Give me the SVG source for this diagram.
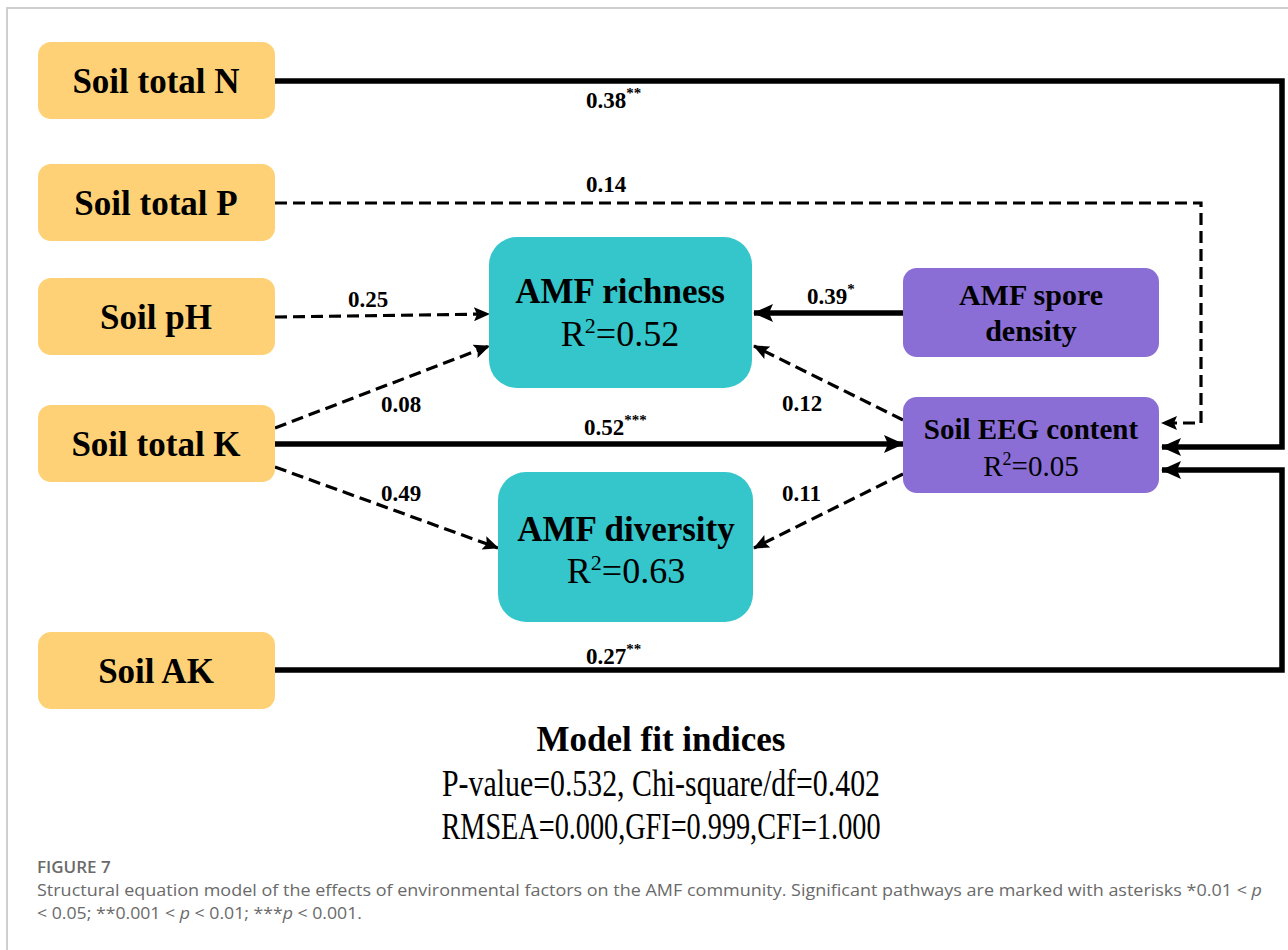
<svg xmlns="http://www.w3.org/2000/svg" width="1288" height="950" viewBox="0 0 1288 950">
<style>
.soil{fill:#FFD176}
.amf{fill:#34C6CB}
.pur{fill:#8A6ED6}
.nt{font-family:"Liberation Serif","Times New Roman",serif;font-weight:bold;fill:#000;text-anchor:middle}
.rt{font-family:"Liberation Serif","Times New Roman",serif;font-weight:normal;fill:#000;text-anchor:middle}
.lab{font-family:"Liberation Serif","Times New Roman",serif;font-weight:bold;font-size:23px;fill:#000}
.sup{font-size:15px}
.solid{fill:none;stroke:#000;stroke-width:5.5}
.dash{fill:none;stroke:#000;stroke-width:3.2;stroke-dasharray:12 6}
.cap{font-family:"Open Sans","Noto Sans",sans-serif;fill:#6a6a6a;font-size:17px}
</style>
<defs>
<marker id="ab" markerUnits="userSpaceOnUse" markerWidth="20" markerHeight="18" refX="19" refY="9" orient="auto">
<path d="M0,0 L20,9 L0,18 L4,9 Z" fill="#000"/>
</marker>
<marker id="as" markerUnits="userSpaceOnUse" markerWidth="16" markerHeight="14" refX="15" refY="7" orient="auto">
<path d="M0,0 L16,7 L0,14 L3,7 Z" fill="#000"/>
</marker>
</defs>
<rect width="1288" height="950" fill="#fff"/>
<path d="M7,950 V8 H1288" fill="none" stroke="#cfcfcf" stroke-width="2"/>

<g id="connectors">
<path class="solid" d="M275,81 H1282 V447 H1162" marker-end="url(#ab)"/>
<path class="dash" d="M275,203 H1201 V423 H1162" marker-end="url(#as)"/>
<path class="dash" d="M275,317 L489,314" marker-end="url(#as)"/>
<path class="dash" d="M275,428 L489,346" marker-end="url(#as)"/>
<path class="solid" d="M275,444 H903" marker-end="url(#ab)"/>
<path class="dash" d="M275,467 L498,548" marker-end="url(#as)"/>
<path class="solid" d="M903,313 H754" marker-end="url(#ab)"/>
<path class="dash" d="M903,420 L754,346" marker-end="url(#as)"/>
<path class="dash" d="M903,474 L754,548" marker-end="url(#as)"/>
<path class="solid" d="M275,670 H1282 V470 H1162" marker-end="url(#ab)"/>
<text class="lab" x="586" y="108">0.38<tspan class="sup" dy="-10">**</tspan></text>
<text class="lab" x="586" y="192">0.14</text>
<text class="lab" x="348" y="307">0.25</text>
<text class="lab" x="807" y="304">0.39<tspan class="sup" dy="-10">*</tspan></text>
<text class="lab" x="381" y="412">0.08</text>
<text class="lab" x="782" y="411">0.12</text>
<text class="lab" x="584" y="435">0.52<tspan class="sup" dy="-10">***</tspan></text>
<text class="lab" x="381" y="501">0.49</text>
<text class="lab" x="782" y="501">0.11</text>
<text class="lab" x="586" y="664">0.27<tspan class="sup" dy="-10">**</tspan></text>
</g>

<g id="soil-total-n">
<rect class="soil" x="38" y="42" width="237" height="77" rx="13"/>
<text class="nt" x="156" y="93" font-size="35">Soil total N</text>
</g>
<g id="soil-total-p">
<rect class="soil" x="38" y="164" width="237" height="77" rx="13"/>
<text class="nt" x="156" y="215" font-size="35">Soil total P</text>
</g>
<g id="soil-ph">
<rect class="soil" x="38" y="278" width="237" height="77" rx="13"/>
<text class="nt" x="156" y="329" font-size="35">Soil pH</text>
</g>
<g id="soil-total-k">
<rect class="soil" x="38" y="405" width="237" height="77" rx="13"/>
<text class="nt" x="156" y="456" font-size="35">Soil total K</text>
</g>
<g id="soil-ak">
<rect class="soil" x="38" y="632" width="237" height="77" rx="13"/>
<text class="nt" x="156" y="683" font-size="35">Soil AK</text>
</g>

<g id="amf-richness">
<rect class="amf" x="489" y="237" width="263" height="151" rx="28"/>
<text class="nt" x="620" y="303" font-size="35">AMF richness</text>
<text class="rt" x="620" y="346" font-size="36">R<tspan font-size="22" dy="-13">2</tspan><tspan dy="13">=0.52</tspan></text>
</g>
<g id="amf-diversity">
<rect class="amf" x="498" y="472" width="255" height="150" rx="28"/>
<text class="nt" x="626" y="541" font-size="35">AMF diversity</text>
<text class="rt" x="626" y="583" font-size="36">R<tspan font-size="22" dy="-13">2</tspan><tspan dy="13">=0.63</tspan></text>
</g>
<g id="amf-spore-density">
<rect class="pur" x="903" y="268" width="256" height="89" rx="14"/>
<text class="nt" x="1031" y="305" font-size="30">AMF spore</text>
<text class="nt" x="1031" y="341" font-size="30">density</text>
</g>
<g id="soil-eeg-content">
<rect class="pur" x="903" y="397" width="256" height="96" rx="14"/>
<text class="nt" x="1031" y="439" font-size="29">Soil EEG content</text>
<text class="rt" x="1031" y="476" font-size="29">R<tspan font-size="18" dy="-11">2</tspan><tspan dy="11">=0.05</tspan></text>
</g>

<g id="fit-indices">
<text class="nt" x="661" y="751" font-size="35">Model fit indices</text>
<text class="rt" x="661" y="796" font-size="37" textLength="438" lengthAdjust="spacingAndGlyphs">P-value=0.532, Chi-square/df=0.402</text>
<text class="rt" x="661" y="839" font-size="37" textLength="439" lengthAdjust="spacingAndGlyphs">RMSEA=0.000,GFI=0.999,CFI=1.000</text>
</g>

<g id="caption">
<text class="cap" x="37" y="873" font-size="13" font-weight="600" fill="#7a7a7a">FIGURE 7</text>
<text class="cap" x="37" y="896" textLength="1225" lengthAdjust="spacingAndGlyphs">Structural equation model of the effects of environmental factors on the AMF community. Significant pathways are marked with asterisks *0.01 &lt; <tspan font-style="italic">p</tspan></text>
<text class="cap" x="37" y="919" textLength="325" lengthAdjust="spacingAndGlyphs">&lt; 0.05; **0.001 &lt; <tspan font-style="italic">p</tspan> &lt; 0.01; ***<tspan font-style="italic">p</tspan> &lt; 0.001.</text>
</g>
</svg>
